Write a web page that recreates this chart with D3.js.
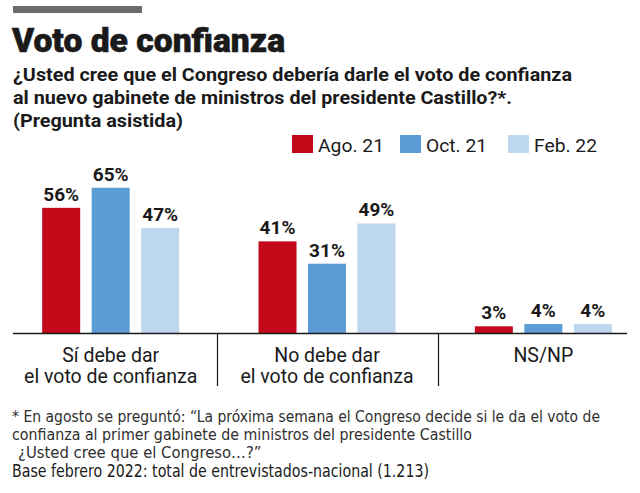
<!DOCTYPE html>
<html>
<head>
<meta charset="utf-8">
<script src="https://cdn.jsdelivr.net/npm/d3@7"></script>
<style>
  html, body { margin: 0; padding: 0; background: #ffffff; }
  svg { display: block; }
  text { font-family: Roboto, "Open Sans", "DejaVu Sans", sans-serif; fill: #1a1a1a; }
  text.narrow { font-family: "Liberation Sans Narrow", "DejaVu Sans Condensed", Roboto, sans-serif; }
</style>
</head>
<body>
<div id="chart"></div>
<script>
// ---- DATA ----
const categories = ["Sí debe dar\nel voto de confianza", "No debe dar\nel voto de confianza", "NS/NP"];
const series = ["Ago. 21", "Oct. 21", "Feb. 22"];
const ago21 = [56, 41, 3];
const oct21 = [65, 31, 4];
const feb22 = [47, 49, 4];
const seriesColors = ["#c1091a", "#5b9bd6", "#bdd7ef"];

const titleText = "Voto de confianza";
const subtitleLines = [
  "¿Usted cree que el Congreso debería darle el voto de confianza",
  "al nuevo gabinete de ministros del presidente Castillo?*.",
  "(Pregunta asistida)"
];
const footnoteLines = [
  "* En agosto se preguntó: “La próxima semana el Congreso decide si le da el voto de",
  "confianza al primer gabinete de ministros del presidente Castillo",
  "¿Usted cree que el Congreso…?”"
];
const baseText = "Base febrero 2022: total de entrevistados-nacional (1.213)";

// ---- CHART ----
const W = 640, H = 493;
const values = [ago21, oct21, feb22];
const rows = categories.map((c, i) => ({ cat: c, vals: series.map((s, j) => ({ s, v: values[j][i], j })) }));

const svg = d3.select("#chart").append("svg").attr("width", W).attr("height", H);

// Top gray bar
svg.append("rect").attr("x", 13).attr("y", 6).attr("width", 129).attr("height", 7).attr("fill", "#6b6b6b");

// Title
svg.append("text").attr("x", 12).attr("y", 52)
  .attr("font-size", 34).attr("font-weight", 900)
  .attr("textLength", 273).attr("lengthAdjust", "spacingAndGlyphs")
  .style("stroke", "#1a1a1a").style("stroke-width", 0.6)
  .text(titleText);

// Subtitle
const subW = [559, 499, 170];
const subY = [81, 104, 127];
subtitleLines.forEach((t, i) => {
  svg.append("text").attr("x", 13).attr("y", subY[i])
    .attr("font-size", 18).attr("font-weight", 700)
    .attr("textLength", subW[i]).attr("lengthAdjust", "spacingAndGlyphs")
    .text(t);
});

// Legend
const legX = d3.scalePoint().domain(series).range([292, 508]);
const legW = [66, 61, 63];
series.forEach((s, i) => {
  svg.append("rect").attr("x", legX(s)).attr("y", 135).attr("width", 21).attr("height", 18).attr("fill", seriesColors[i]);
  svg.append("text").attr("x", legX(s) + 26).attr("y", 152)
    .attr("font-size", 19)
    .attr("textLength", legW[i]).attr("lengthAdjust", "spacingAndGlyphs")
    .text(s);
});

// Scales
const x0 = d3.scaleBand().domain(categories).range([2.5, 651.5]).paddingInner(0).paddingOuter(0);
const x1 = d3.scaleBand().domain(series).range([-68.5, 68.5]).paddingInner(0.232).paddingOuter(0);
const y = d3.scaleLinear().domain([0, 100]).range([333, 109.5]);
const color = d3.scaleOrdinal().domain(series).range(seriesColors);

const groups = svg.selectAll("g.grp").data(rows).join("g")
  .attr("class", "grp")
  .attr("transform", d => `translate(${x0(d.cat) + x0.bandwidth() / 2},0)`);

groups.selectAll("rect").data(d => d.vals).join("rect")
  .attr("x", d => x1(d.s))
  .attr("width", x1.bandwidth())
  .attr("y", d => y(d.v))
  .attr("height", d => y(0) - y(d.v))
  .attr("fill", d => color(d.s));

groups.selectAll("text.val").data(d => d.vals).join("text")
  .attr("class", "val")
  .attr("x", d => x1(d.s) + x1.bandwidth() / 2)
  .attr("y", d => y(d.v) - 7)
  .attr("text-anchor", "middle")
  .attr("font-size", 19).attr("font-weight", 700)
  .text(d => d.v + "%");

// Baseline axis
svg.append("line").attr("x1", 13).attr("x2", 627).attr("y1", y(0) + 0.5).attr("y2", y(0) + 0.5)
  .attr("stroke", "#1a1a1a").attr("stroke-width", 1.5);

// Dividers between groups
categories.slice(1).forEach((c, i) => {
  const xd = Math.round(x0(c)) + (i === 0 ? -1.5 : 3.5);
  svg.append("line").attr("x1", xd).attr("x2", xd).attr("y1", y(0)).attr("y2", 386)
    .attr("stroke", "#1a1a1a").attr("stroke-width", 1.2);
});

// Category labels
groups.each(function (d) {
  const lines = d.cat.split("\n");
  const g = d3.select(this);
  lines.forEach((ln, k) => {
    g.append("text").attr("x", 0).attr("y", 362 + k * 21)
      .attr("text-anchor", "middle")
      .attr("font-size", 19.5)
      .text(ln);
  });
});

// Footnotes
const fnW = [588, 460, null];
const fnX = [12, 12, 18];
const fnY = [422, 440, 458];
footnoteLines.forEach((t, i) => {
  const tx = svg.append("text").attr("class", "narrow").attr("x", fnX[i]).attr("y", fnY[i])
    .attr("font-size", 16.5).style("fill", "#2e2e2e")
    .text(t);
  if (fnW[i]) tx.attr("textLength", fnW[i]).attr("lengthAdjust", "spacingAndGlyphs");
});
svg.append("text").attr("class", "narrow").attr("x", 12).attr("y", 477)
  .attr("font-size", 17)
  .attr("textLength", 417).attr("lengthAdjust", "spacingAndGlyphs")
  .text(baseText);
</script>
</body>
</html>
